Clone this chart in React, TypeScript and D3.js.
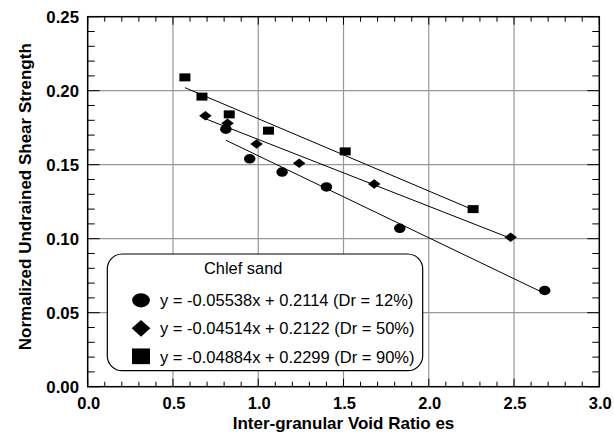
import * as d3 from "d3";

const xTicks = [0, 0.5, 1.0, 1.5, 2.0, 2.5, 3.0];
const yTicks = [0, 0.05, 0.1, 0.15, 0.2, 0.25];

// Dr = 12% (circles)
const voidRatio12 = [0.81, 0.95, 1.14, 1.4, 1.83, 2.68];
const strength12 = [0.174, 0.154, 0.145, 0.135, 0.107, 0.065];
// Dr = 50% (diamonds)
const voidRatio50 = [0.69, 0.82, 0.99, 1.24, 1.68, 2.48];
const strength50 = [0.183, 0.178, 0.164, 0.151, 0.137, 0.101];
// Dr = 90% (squares)
const voidRatio90 = [0.57, 0.67, 0.83, 1.06, 1.51, 2.26];
const strength90 = [0.209, 0.196, 0.184, 0.173, 0.159, 0.12];

const slopes = [-0.05538, -0.04514, -0.04884];
const intercepts = [0.2114, 0.2122, 0.2299];
const legendLabels = [
  "y = -0.05538x + 0.2114 (Dr = 12%)",
  "y = -0.04514x + 0.2122 (Dr = 50%)",
  "y = -0.04884x + 0.2299 (Dr = 90%)",
];

const W = 614;
const H = 434;
const left = 87.7, right = 599.3, top = 16.7, bottom = 386.7;

const x = d3.scaleLinear().domain([0, 3]).range([left, right]);
const y = d3.scaleLinear().domain([0, 0.25]).range([bottom, top]);

const font = "'Liberation Sans', Arial, sans-serif";

function Marker({ kind, cx, cy, w, h }: { kind: string; cx: number; cy: number; w: number; h: number }) {
  if (kind === "circle") return <ellipse cx={cx} cy={cy} rx={w / 2} ry={h / 2} fill="#000" />;
  if (kind === "diamond")
    return (
      <path
        d={`M${cx - w / 2},${cy}L${cx},${cy - h / 2}L${cx + w / 2},${cy}L${cx},${cy + h / 2}Z`}
        fill="#000"
      />
    );
  return <rect x={cx - w / 2} y={cy - h / 2} width={w} height={h} fill="#000" />;
}

export default function App() {
  const series = [
    { kind: "circle", xs: voidRatio12, ys: strength12, w: 11.5, h: 9.5 },
    { kind: "diamond", xs: voidRatio50, ys: strength50, w: 12.5, h: 9.5 },
    { kind: "square", xs: voidRatio90, ys: strength90, w: 11, h: 8 },
  ];
  const legendSize = [
    { w: 17.7, h: 14.3 },
    { w: 18.7, h: 16.7 },
    { w: 18, h: 15.7 },
  ];
  const xMinor = d3.range(0, 31).map((i) => i / 10);
  const yMinor = d3.range(0, 26).map((i) => i / 100);
  const isMajorX = (v: number) => Math.abs(v * 2 - Math.round(v * 2)) < 1e-6;
  const isMajorY = (v: number) => Math.abs(v * 20 - Math.round(v * 20)) < 1e-6;

  return (
    <svg width={W} height={H} style={{ position: "absolute", left: 0, top: 0, background: "#fff" }}>
      {/* grid */}
      {xTicks.slice(1, -1).map((t) => (
        <line key={"gx" + t} x1={x(t)} x2={x(t)} y1={top} y2={bottom} stroke="#999" strokeWidth={1.2} />
      ))}
      {yTicks.slice(1, -1).map((t) => (
        <line key={"gy" + t} x1={left} x2={right} y1={y(t)} y2={y(t)} stroke="#999" strokeWidth={1.2} />
      ))}
      {/* ticks */}
      {xMinor.map((t) => {
        const len = isMajorX(t) ? 8 : 5;
        return (
          <g key={"tx" + t} stroke="#000" strokeWidth={1}>
            <line x1={x(t)} x2={x(t)} y1={bottom} y2={bottom - len} />
            <line x1={x(t)} x2={x(t)} y1={top} y2={top + len} />
          </g>
        );
      })}
      {yMinor.map((t) => {
        const len = isMajorY(t) ? 12 : 7;
        return (
          <g key={"ty" + t} stroke="#000" strokeWidth={1}>
            <line x1={left} x2={left + len} y1={y(t)} y2={y(t)} />
            <line x1={right} x2={right - len} y1={y(t)} y2={y(t)} />
          </g>
        );
      })}
      <rect x={left} y={top} width={right - left} height={bottom - top} fill="none" stroke="#000" strokeWidth={1.5} />
      {/* tick labels */}
      {xTicks.map((t) => (
        <text key={"lx" + t} x={x(t) + 1} y={408.5} textAnchor="middle" fontFamily={font} fontWeight="bold" fontSize={16.5} fill="#000">
          {t.toFixed(1)}
        </text>
      ))}
      {yTicks.map((t) => (
        <text key={"ly" + t} x={79} y={y(t) + 5.8} textAnchor="end" fontFamily={font} fontWeight="bold" fontSize={16.8} fill="#000">
          {t.toFixed(2)}
        </text>
      ))}
      <text x={(left + right) / 2} y={428.5} textAnchor="middle" fontFamily={font} fontWeight="bold" fontSize={17} fill="#000">
        Inter-granular Void Ratio es
      </text>
      <text
        transform={`translate(31,${(top + bottom) / 2 - 5}) rotate(-90)`}
        textAnchor="middle"
        fontFamily={font}
        fontWeight="bold"
        fontSize={17}
        fill="#000"
      >
        Normalized Undrained Shear Strength
      </text>
      {/* fit lines */}
      {series.map((s, i) => {
        const x0 = d3.min(s.xs) as number;
        const x1 = d3.max(s.xs) as number;
        return (
          <line
            key={"fit" + i}
            x1={x(x0)}
            x2={x(x1)}
            y1={y(slopes[i] * x0 + intercepts[i])}
            y2={y(slopes[i] * x1 + intercepts[i])}
            stroke="#000"
            strokeWidth={1}
          />
        );
      })}
      {/* markers */}
      {series.map((s, i) =>
        s.xs.map((v, j) => <Marker key={`m${i}-${j}`} kind={s.kind} cx={x(v)} cy={y(s.ys[j])} w={s.w} h={s.h} />)
      )}
      {/* legend */}
      <rect x={107.3} y={254} width={315.4} height={116.7} rx={15} ry={15} fill="#fff" stroke="#000" strokeWidth={1.2} />
      <text x={204} y={274.3} fontFamily={font} fontSize={16.4} fill="#000">
        Chlef sand
      </text>
      {series.map((s, i) => (
        <g key={"leg" + i}>
          <Marker kind={s.kind} cx={141} cy={300.3 + i * 28} w={legendSize[i].w} h={legendSize[i].h} />
          <text x={160} y={306 + i * 28.3} fontFamily={font} fontSize={16.5} fill="#000">
            {legendLabels[i]}
          </text>
        </g>
      ))}
    </svg>
  );
}
